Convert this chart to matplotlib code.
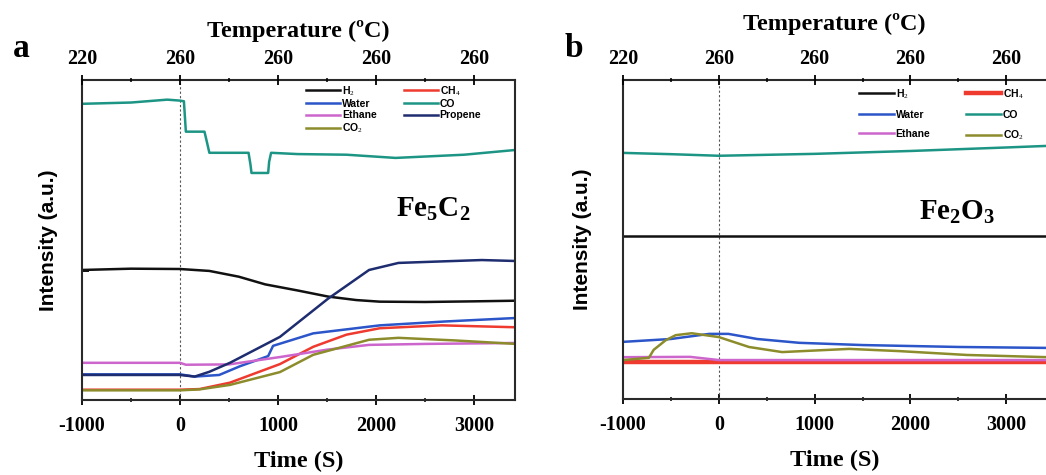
import numpy as np
import matplotlib as mpl
mpl.use('Agg')
import matplotlib.pyplot as plt
from matplotlib.ticker import MultipleLocator

plt.rcParams['mathtext.fontset'] = 'custom'
plt.rcParams['mathtext.rm'] = 'Liberation Serif'
plt.rcParams['mathtext.bf'] = 'Liberation Serif:bold'

# ---- data (time in s, intensity in arbitrary units) ----
bottom_ticks = [-1000, 0, 1000, 2000, 3000]
top_labels = ['220', '260', '260', '260', '260']

# panel a : Fe5C2
a_h2_t = [-1000, -500, 0, 300, 600, 870, 1200, 1510, 1800, 2040, 2500, 3000, 3430]
a_h2_v = [40.6, 41.0, 40.9, 40.3, 38.5, 36.1, 34.2, 32.3, 31.2, 30.7, 30.6, 30.8, 31.0]
a_ch4_t = [-1000, 0, 200, 510, 1020, 1360, 1700, 2040, 2670, 3430]
a_ch4_v = [3.2, 3.2, 3.4, 5.4, 11.2, 16.6, 20.4, 22.4, 23.3, 22.7]
a_water_t = [-1000, 0, 150, 400, 610, 900, 950, 1360, 2040, 2700, 3430]
a_water_v = [8.0, 8.0, 7.3, 7.8, 10.5, 13.7, 16.9, 20.8, 23.3, 24.5, 25.6]
a_co_t = [-1000, -500, -130, 0, 40, 60, 250, 270, 300, 700, 720, 730, 900, 910, 930, 1200, 1700, 2200, 2900, 3430]
a_co_v = [92.5, 92.9, 93.8, 93.5, 93.3, 83.8, 83.8, 81.2, 77.2, 77.2, 73.4, 70.9, 70.9, 74.4, 77.2, 76.8, 76.6, 75.6, 76.6, 78.1]
a_ethane_t = [-1000, 0, 60, 500, 1020, 1500, 1930, 2500, 3430]
a_ethane_v = [11.6, 11.6, 11.0, 11.1, 13.4, 15.7, 17.2, 17.5, 17.8]
a_propene_t = [-1000, 0, 150, 300, 510, 1020, 1510, 1930, 2230, 2600, 3080, 3430]
a_propene_v = [7.8, 7.8, 7.3, 8.8, 11.6, 19.7, 31.6, 40.6, 42.8, 43.2, 43.7, 43.4]
a_co2_t = [-1000, 0, 200, 510, 1020, 1360, 1930, 2230, 2800, 3430]
a_co2_v = [3.0, 3.0, 3.3, 4.7, 8.7, 14.1, 18.8, 19.4, 18.6, 17.5]

# panel b : Fe2O3
b_h2_t = [-1000, 3430]
b_h2_v = [51.1, 51.1]
b_ch4_t = [-1000, 3430]
b_ch4_v = [11.6, 11.6]
b_water_t = [-1000, -500, -100, 100, 400, 840, 1500, 2500, 3430]
b_water_v = [17.9, 18.8, 20.4, 20.4, 18.8, 17.6, 16.9, 16.3, 16.0]
b_co_t = [-1000, -500, 0, 1000, 2000, 3000, 3430]
b_co_v = [77.1, 76.7, 76.2, 76.8, 77.7, 78.8, 79.3]
b_ethane_t = [-1000, -300, 0, 3430]
b_ethane_v = [13.1, 13.2, 12.2, 12.2]
b_co2_t = [-1000, -730, -680, -555, -450, -283, 0, 314, 660, 1361, 1885, 2586, 3430]
b_co2_v = [12.2, 12.9, 15.4, 18.4, 20.0, 20.6, 19.4, 16.3, 14.7, 15.7, 15.0, 13.8, 13.1]

colors = {'H2': '#111111', 'CH4': '#ee3a2f', 'Water': '#2b55c8', 'CO': '#1d9585',
          'Ethane': '#cc66cc', 'Propene': '#1e2c70', 'CO2': '#8c8c2c'}
labels = {'H2': r'H$_2$', 'CH4': r'CH$_4$', 'Water': 'Water', 'CO': 'CO',
          'Ethane': 'Ethane', 'Propene': 'Propene', 'CO2': r'CO$_2$'}

serif = 'Liberation Serif'

fig = plt.figure(figsize=(10.46, 4.75), dpi=100)
ax_a = fig.add_axes([0.0784, 0.158, 0.414, 0.674])
ax_b = fig.add_axes([0.5956, 0.160, 0.4044, 0.672])


def style_axes(ax, xmax, ypad, tpad):
    ax.set_xlim(-1000, xmax)
    ax.set_ylim(0, 100)
    ax.set_xticks(bottom_ticks)
    ax.set_xticklabels([str(t) for t in bottom_ticks], fontfamily=serif,
                       fontweight='bold', fontsize=14.5)
    ax.xaxis.set_minor_locator(MultipleLocator(500))
    ax.tick_params(axis='x', which='major', direction='inout', length=7, width=1.3, pad=8)
    ax.tick_params(axis='x', which='minor', direction='inout', length=3.5, width=1.1)
    ax.tick_params(axis='y', direction='in', length=5, width=1.3)
    ax.set_yticklabels([])
    for s in ax.spines.values():
        s.set_linewidth(1.5)
        s.set_color('#2a2a2a')
    ax.set_xlabel('Time (S)', fontfamily=serif, fontweight='bold', fontsize=17.5, labelpad=11)
    ax.set_ylabel('Intensity (a.u.)', fontfamily='Liberation Sans', fontweight='bold',
                  fontsize=15, labelpad=ypad)
    ax.axvline(0, color='#555555', lw=0.8, ls=(0, (2, 2)))

    top = ax.twiny()
    top.set_xlim(ax.get_xlim())
    top.set_xticks(bottom_ticks)
    top.set_xticklabels(top_labels, fontfamily=serif, fontweight='bold', fontsize=14.5)
    top.xaxis.set_minor_locator(MultipleLocator(500))
    top.tick_params(axis='x', which='major', direction='inout', length=7, width=1.3, pad=4)
    top.tick_params(axis='x', which='minor', direction='inout', length=3.5, width=1.1)
    top.set_xlabel('Temperature (ºC)', fontfamily=serif, fontweight='bold', fontsize=17.5,
                   labelpad=tpad)
    for s in top.spines.values():
        s.set_visible(False)
    return top


legend_font = {'family': 'Liberation Sans', 'weight': 'bold', 'size': 7.5}

# panel a
style_axes(ax_a, 3420, 14, 9)
ax_a.set_yticks([40.4])
series_a = [('H2', a_h2_t, a_h2_v), ('CH4', a_ch4_t, a_ch4_v), ('Water', a_water_t, a_water_v),
            ('CO', a_co_t, a_co_v), ('Ethane', a_ethane_t, a_ethane_v),
            ('Propene', a_propene_t, a_propene_v), ('CO2', a_co2_t, a_co2_v)]
lines_a = {}
for key, t, v in series_a:
    lines_a[key], = ax_a.plot(t, v, color=colors[key], lw=1.8, label=labels[key])
order_a = ['H2', 'Water', 'Ethane', 'CO2', 'CH4', 'CO', 'Propene']
ax_a.legend([lines_a[k] for k in order_a], [labels[k] for k in order_a], ncol=2,
            frameon=False, loc='upper left', bbox_to_anchor=(0.5, 1.01),
            prop=legend_font, handlelength=3.3, handletextpad=0.15,
            labelspacing=0.12, columnspacing=2.6, borderaxespad=0.3)
ax_a.text(0.81, 0.595, r'$\mathbf{Fe_5C_2}$', transform=ax_a.transAxes, fontsize=21,
          ha='center', va='center')

# panel b
style_axes(ax_b, 3414, 22, 14)
ax_b.set_yticks([])
ax_b.spines['right'].set_visible(False)
series_b = [('H2', b_h2_t, b_h2_v), ('CH4', b_ch4_t, b_ch4_v), ('Water', b_water_t, b_water_v),
            ('CO', b_co_t, b_co_v), ('Ethane', b_ethane_t, b_ethane_v), ('CO2', b_co2_t, b_co2_v)]
lines_b = {}
for key, t, v in series_b:
    lw = 3.2 if key == 'CH4' else 1.8
    lines_b[key], = ax_b.plot(t, v, color=colors[key], lw=lw, label=labels[key])
order_b = ['H2', 'Water', 'Ethane', 'CH4', 'CO', 'CO2']
ax_b.legend([lines_b[k] for k in order_b], [labels[k] for k in order_b], ncol=2,
            frameon=False, loc='upper left', bbox_to_anchor=(0.54, 1.0),
            prop=legend_font, handlelength=3.4, handletextpad=0.15,
            labelspacing=0.85, columnspacing=3.4, borderaxespad=0.3)
ax_b.text(0.79, 0.585, r'$\mathbf{Fe_2O_3}$', transform=ax_b.transAxes, fontsize=21,
          ha='center', va='center')

fig.text(0.012, 0.88, 'a', fontfamily=serif, fontweight='bold', fontsize=24)
fig.text(0.540, 0.88, 'b', fontfamily=serif, fontweight='bold', fontsize=24)

plt.savefig('out.png', dpi=100)
